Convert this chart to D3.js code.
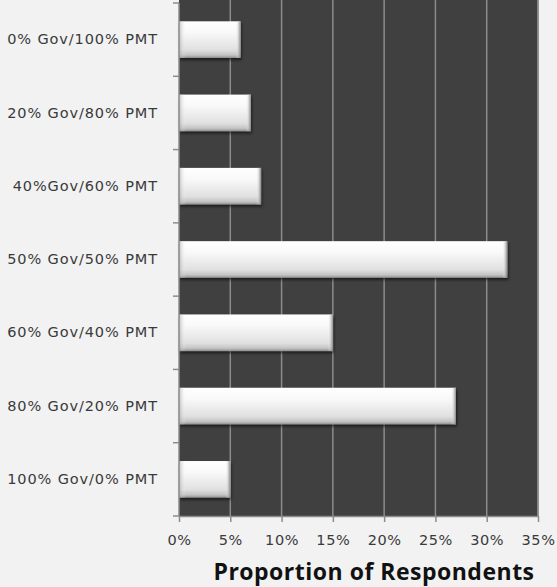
<!DOCTYPE html>
<html>
<head>
<meta charset="utf-8">
<script src="https://cdn.jsdelivr.net/npm/d3@7/dist/d3.min.js"></script>
<style>
  html, body { margin: 0; padding: 0; background: #f2f2f2; }
  svg { display: block; }
</style>
</head>
<body>
<svg id="chart" width="557" height="587"></svg>
<script>
// Funding split options and share of respondents choosing each
const categories = [
  "0% Gov/100% PMT",
  "20% Gov/80% PMT",
  "40%Gov/60% PMT",
  "50% Gov/50% PMT",
  "60% Gov/40% PMT",
  "80% Gov/20% PMT",
  "100% Gov/0% PMT"
];
const shares = [6, 7, 8, 32, 15, 27, 5];
const tickValues = [0, 5, 10, 15, 20, 25, 30, 35];
const axisTitle = "Proportion of Respondents";

const svg = d3.select("#chart");
const W = 557, H = 587;
const plot = { left: 179, right: 538, top: 3, bottom: 516 };

svg.append("rect").attr("width", W).attr("height", H).attr("fill", "#f2f2f2");

const x = d3.scaleLinear().domain([0, 35]).range([plot.left, plot.right]);
const y = d3.scaleBand().domain(categories).range([plot.top, plot.bottom])
  .paddingInner(0.5).paddingOuter(0.25);

// Bar shading: bright top fading to grey underneath
const defs = svg.append("defs");
const gv = defs.append("linearGradient").attr("id", "barFill")
  .attr("x1", 0).attr("y1", 0).attr("x2", 0).attr("y2", 1);
gv.append("stop").attr("offset", "0%").attr("stop-color", "#ffffff");
gv.append("stop").attr("offset", "30%").attr("stop-color", "#f9f9f9");
gv.append("stop").attr("offset", "78%").attr("stop-color", "#e0e0e0");
gv.append("stop").attr("offset", "92%").attr("stop-color", "#c4c4c4");
gv.append("stop").attr("offset", "100%").attr("stop-color", "#8f8f8f");

const ge = defs.append("linearGradient").attr("id", "barEdge")
  .attr("x1", 0).attr("y1", 0).attr("x2", 1).attr("y2", 0);
ge.append("stop").attr("offset", "0%").attr("stop-color", "#9a9a9a").attr("stop-opacity", 0.6);
ge.append("stop").attr("offset", "100%").attr("stop-color", "#ffffff").attr("stop-opacity", 0);

const geR = defs.append("linearGradient").attr("id", "barEdgeR")
  .attr("x1", 1).attr("y1", 0).attr("x2", 0).attr("y2", 0);
geR.append("stop").attr("offset", "0%").attr("stop-color", "#7a7a7a").attr("stop-opacity", 0.9);
geR.append("stop").attr("offset", "100%").attr("stop-color", "#ffffff").attr("stop-opacity", 0);

const shadow = defs.append("filter").attr("id", "barShadow")
  .attr("x", "-5%").attr("y", "-20%").attr("width", "115%").attr("height", "150%");
shadow.append("feDropShadow").attr("dx", 1).attr("dy", 2).attr("stdDeviation", 1.5)
  .attr("flood-color", "#000").attr("flood-opacity", 0.6);

// Plot background
svg.append("rect")
  .attr("x", plot.left).attr("y", 0)
  .attr("width", plot.right - plot.left).attr("height", plot.bottom)
  .attr("fill", "#404040");

// Vertical gridlines
svg.append("g")
  .selectAll("line")
  .data(tickValues.slice(1))
  .join("line")
  .attr("x1", d => x(d)).attr("x2", d => x(d))
  .attr("y1", 0).attr("y2", plot.bottom)
  .attr("stroke", "#8c8c8c").attr("stroke-width", 1.5);

// Bars
const bars = svg.append("g").selectAll("g.bar")
  .data(categories.map((c, i) => ({ c, v: shares[i] })))
  .join("g").attr("class", "bar");

bars.append("rect")
  .attr("x", x(0)).attr("y", d => y(d.c))
  .attr("width", d => x(d.v) - x(0)).attr("height", y.bandwidth())
  .attr("fill", "url(#barFill)")
  .attr("filter", "url(#barShadow)");

bars.append("rect")
  .attr("x", x(0)).attr("y", d => y(d.c))
  .attr("width", 7).attr("height", y.bandwidth())
  .attr("fill", "url(#barEdge)");

bars.append("rect")
  .attr("x", d => x(d.v) - 5).attr("y", d => y(d.c))
  .attr("width", 5).attr("height", y.bandwidth())
  .attr("fill", "url(#barEdgeR)");

// Category axis
const yAxis = d3.axisLeft(y).tickSize(0).tickPadding(21);
const yg = svg.append("g").attr("transform", `translate(${plot.left},0)`).call(yAxis);
yg.select(".domain").attr("stroke", "#8c8c8c").attr("stroke-width", 1.5)
  .attr("d", `M0,${plot.top}V${plot.bottom}`);
yg.selectAll("text")
  .attr("font-family", "DejaVu Sans, sans-serif")
  .attr("font-size", 14.5).attr("letter-spacing", 0.9).attr("fill", "#3a3a3a");

// Boundary ticks between categories
const step = y.step();
svg.append("g").selectAll("line")
  .data(d3.range(categories.length + 1))
  .join("line")
  .attr("x1", plot.left - 6).attr("x2", plot.left)
  .attr("y1", i => plot.top + i * step).attr("y2", i => plot.top + i * step)
  .attr("stroke", "#8c8c8c").attr("stroke-width", 1.5);

// Value axis
const xAxis = d3.axisBottom(x).tickValues(tickValues)
  .tickFormat(d => d + "%").tickSize(6).tickPadding(13).tickSizeOuter(0);
const xg = svg.append("g").attr("transform", `translate(0,${plot.bottom})`).call(xAxis);
xg.select(".domain").attr("stroke", "#8c8c8c").attr("stroke-width", 1.5);
xg.selectAll(".tick line").attr("stroke", "#8c8c8c").attr("stroke-width", 1.5);
xg.selectAll("text")
  .attr("font-family", "DejaVu Sans, sans-serif")
  .attr("font-size", 14.5).attr("letter-spacing", 0.6).attr("fill", "#3a3a3a");

// Right edge of plot
svg.append("line")
  .attr("x1", plot.right).attr("x2", plot.right)
  .attr("y1", 0).attr("y2", plot.bottom)
  .attr("stroke", "#8c8c8c").attr("stroke-width", 1.5);

// Axis title
svg.append("text")
  .attr("x", 374).attr("y", 580)
  .attr("text-anchor", "middle")
  .attr("font-family", "'Open Sans', Lato, sans-serif")
  .attr("font-weight", "bold").attr("font-size", 23)
  .attr("letter-spacing", 0.5)
  .attr("fill", "#111")
  .text(axisTitle);
</script>
</body>
</html>
